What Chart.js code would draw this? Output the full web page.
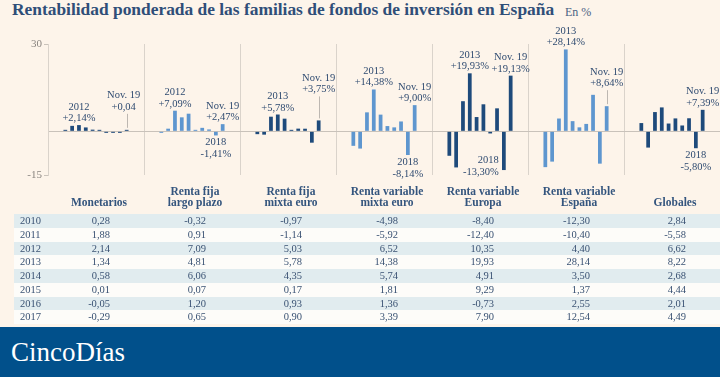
<!DOCTYPE html>
<html lang="es">
<head>
<meta charset="utf-8">
<title>Rentabilidad ponderada de las familias de fondos de inversión en España</title>
<script src="https://cdn.jsdelivr.net/npm/chart.js@4.4.1/dist/chart.umd.min.js"></script>
<style>
  html, body { margin: 0; padding: 0; }
  body {
    width: 720px; height: 377px; overflow: hidden; position: relative;
    background: #fdf4ea; font-family: "Liberation Serif", serif; color: #2e4a70;
  }
  #titulo { position: absolute; left: 12px; top: -1px; font-size: 17.4px; line-height: 20px; font-weight: bold; color: #2f4e78; white-space: nowrap; }
  #unidad { position: absolute; left: 565px; top: 5px; font-size: 12px; line-height: 14px; color: #4a6384; }
  #grafico { position: absolute; left: 0; top: 0; width: 720px; height: 190px; }
  #tabla { position: absolute; left: 14px; top: 185px; width: 706px; border-collapse: collapse; table-layout: fixed; }
  #tabla th { box-sizing: border-box; height: 29px; padding: 0 0 6px 6px; vertical-align: bottom; text-align: center; font-size: 11.5px; line-height: 11px; color: #34557e; }
  #tabla td { box-sizing: border-box; height: 13.75px; padding: 0 34px 0 0; line-height: 13.75px; font-size: 10.5px; text-align: right; color: #3a5273; }
  #tabla td.ano { padding: 0 0 0 6px; text-align: left; }
  #tabla tbody tr { background: #fdfcf9; }
  #tabla tbody tr:nth-child(odd) { background: #e1ecef; }
  #pie { position: absolute; left: 0; top: 327px; width: 720px; height: 50px; background: #01508b; }
  #marca { position: absolute; left: 11px; top: 0; font-size: 27px; line-height: 50px; color: #ffffff; }
</style>
</head>
<body>
<div id="titulo">Rentabilidad ponderada de las familias de fondos de inversión en España</div>
<div id="unidad">En %</div>
<div id="grafico"><canvas id="lienzo"></canvas></div>
<table id="tabla">
  <colgroup id="columnas"></colgroup>
  <thead><tr id="cabecera"></tr></thead>
  <tbody id="cuerpo"></tbody>
</table>
<div id="pie"><span id="marca">CincoDías</span></div>

<script>
// Datos
const familias = ['Monetarios', 'Renta fija largo plazo', 'Renta fija mixta euro', 'Renta variable mixta euro', 'Renta variable Europa', 'Renta variable España', 'Globales'];
const encabezados = [['Monetarios'], ['Renta fija', 'largo plazo'], ['Renta fija', 'mixta euro'], ['Renta variable', 'mixta euro'], ['Renta variable', 'Europa'], ['Renta variable', 'España'], ['Globales']];
const anos = ['2010', '2011', '2012', '2013', '2014', '2015', '2016', '2017', '2018', 'Nov. 19'];
const anosTabla = ['2010', '2011', '2012', '2013', '2014', '2015', '2016', '2017'];

const monetarios = [0.28, 1.88, 2.14, 1.34, 0.58, 0.01, -0.05, -0.29, -0.35, 0.04];
const rentaFijaLargo = [-0.32, 0.91, 7.09, 4.81, 6.06, 0.07, 1.20, 0.65, -1.41, 2.47];
const rentaFijaMixta = [-0.97, -1.14, 5.03, 5.78, 4.35, 0.17, 0.93, 0.90, -3.90, 3.75];
const rentaVariableMixta = [-4.98, -5.92, 6.52, 14.38, 5.74, 1.81, 1.36, 3.39, -8.14, 9.00];
const rentaVariableEuropa = [-8.40, -12.40, 10.35, 19.93, 4.91, 9.29, -0.73, 7.90, -13.30, 19.13];
const rentaVariableEspana = [-12.30, -10.40, 4.40, 28.14, 3.50, 1.37, 2.55, 12.54, -11.10, 8.64];
const globales = [2.84, -5.58, 6.62, 8.22, 2.68, 4.44, 2.01, 4.49, -5.80, 7.39];

const ticksY = [-15, 0, 30];

const series = [monetarios, rentaFijaLargo, rentaFijaMixta, rentaVariableMixta, rentaVariableEuropa, rentaVariableEspana, globales];

// Colores: familias alternas oscuro / claro
const colorOscuro = '#1e4a7b';
const colorClaro = '#5e96cf';
const coloresFamilia = [colorOscuro, colorClaro, colorOscuro, colorClaro, colorOscuro, colorClaro, colorOscuro];

// Qué barras llevan etiqueta (f = familia, a = año)
const etiquetas = [
  { f: 0, a: 2 },
  { f: 0, a: 9, guia: 16, dx: -3, sinPct: true },
  { f: 1, a: 2 },
  { f: 1, a: 9 },
  { f: 1, a: 8 },
  { f: 2, a: 3 },
  { f: 2, a: 9, guia: 24 },
  { f: 3, a: 3 },
  { f: 3, a: 9 },
  { f: 3, a: 8 },
  { f: 4, a: 3 },
  { f: 4, a: 9 },
  { f: 4, a: 8, lado: true },
  { f: 5, a: 3 },
  { f: 5, a: 9, guia: 16 },
  { f: 6, a: 9 },
  { f: 6, a: 8 }
];

function formatear(v) {
  return v.toFixed(2).replace('.', ',');
}

function formatearEtiqueta(v, conPct) {
  return (v > 0 ? '+' : '') + formatear(v) + (conPct ? '%' : '');
}

// Plugin para las etiquetas de año y valor sobre las barras
const pluginEtiquetas = {
  id: 'etiquetas',
  afterDatasetsDraw(chart) {
    const ctx = chart.ctx;
    const salto = 11.5;
    ctx.save();
    ctx.font = '10.5px "Liberation Serif"';
    ctx.fillStyle = '#2e4a70';
    ctx.textBaseline = 'alphabetic';
    etiquetas.forEach(e => {
      const barra = chart.getDatasetMeta(e.a).data[e.f];
      const valor = series[e.f][e.a];
      const linea1 = anos[e.a];
      const linea2 = formatearEtiqueta(valor, !e.sinPct);
      const x = barra.x + (e.dx || 0);
      if (e.lado) {
        ctx.textAlign = 'right';
        const base = barra.y + 4.5;
        ctx.fillText(linea2, barra.x - 5, base);
        ctx.fillText(linea1, barra.x - 5, base - salto);
      } else if (valor >= 0) {
        ctx.textAlign = 'center';
        let base = barra.y - 4;
        if (e.guia) {
          ctx.strokeStyle = '#bdb7b1';
          ctx.lineWidth = 1;
          ctx.beginPath();
          ctx.moveTo(Math.round(barra.x) + 0.5, barra.y - 2);
          ctx.lineTo(Math.round(barra.x) + 0.5, barra.y - e.guia);
          ctx.stroke();
          base = barra.y - e.guia - 4;
        }
        ctx.fillText(linea2, x, base);
        ctx.fillText(linea1, x, base - salto);
      } else {
        ctx.textAlign = 'center';
        const base = barra.y + 10;
        ctx.fillText(linea1, x, base);
        ctx.fillText(linea2, x, base + salto);
      }
    });
    ctx.restore();
  }
};

function crearGrafico() {
  const ctx = document.getElementById('lienzo').getContext('2d');
  window.graficoFondos = new Chart(ctx, {
    type: 'bar',
    data: {
      labels: familias,
      datasets: anos.map((a, i) => ({
        label: a,
        data: series.map(s => s[i]),
        backgroundColor: coloresFamilia,
        categoryPercentage: 0.71,
        barPercentage: 0.55,
        minBarLength: 1.5
      }))
    },
    options: {
      responsive: true,
      maintainAspectRatio: false,
      animation: false,
      layout: { padding: { top: 44, bottom: 15, left: 0, right: 0 } },
      plugins: { legend: { display: false }, tooltip: { enabled: false } },
      scales: {
        x: {
          grid: { color: '#dad3cb', drawTicks: false, offset: true },
          border: { display: false },
          ticks: { display: false }
        },
        y: {
          min: -15,
          max: 30,
          afterBuildTicks: ax => { ax.ticks = ticksY.map(v => ({ value: v })); },
          afterFit: ax => { ax.width = 48; },
          ticks: {
            callback: v => (v === 0 ? '' : v),
            font: { family: 'Liberation Serif', size: 11 },
            color: '#8a8580',
            padding: 2
          },
          grid: {
            color: c => (c.tick && c.tick.value === 0 ? '#c9c2ba' : 'transparent'),
            tickColor: c => (c.tick && c.tick.value === 0 ? 'transparent' : '#c9c2ba'),
            tickLength: 4
          },
          border: { color: '#dad3cb' }
        }
      }
    },
    plugins: [pluginEtiquetas]
  });
}

// Tabla de rentabilidades 2010-2017
function crearTabla() {
  const columnas = document.getElementById('columnas');
  const anchos = [34, 96, 96, 96, 96, 96, 96, 96];
  anchos.forEach(w => {
    const col = document.createElement('col');
    col.style.width = w + 'px';
    columnas.appendChild(col);
  });

  const cabecera = document.getElementById('cabecera');
  cabecera.appendChild(document.createElement('th'));
  encabezados.forEach(lineas => {
    const th = document.createElement('th');
    th.innerHTML = lineas.join('<br>');
    cabecera.appendChild(th);
  });

  const cuerpo = document.getElementById('cuerpo');
  anosTabla.forEach((ano, i) => {
    const tr = document.createElement('tr');
    const tdAno = document.createElement('td');
    tdAno.className = 'ano';
    tdAno.textContent = ano;
    tr.appendChild(tdAno);
    series.forEach(s => {
      const td = document.createElement('td');
      td.textContent = formatear(s[i]);
      tr.appendChild(td);
    });
    cuerpo.appendChild(tr);
  });
}

document.addEventListener('DOMContentLoaded', function() {
  crearGrafico();
  crearTabla();
});
</script>
</body>
</html>
